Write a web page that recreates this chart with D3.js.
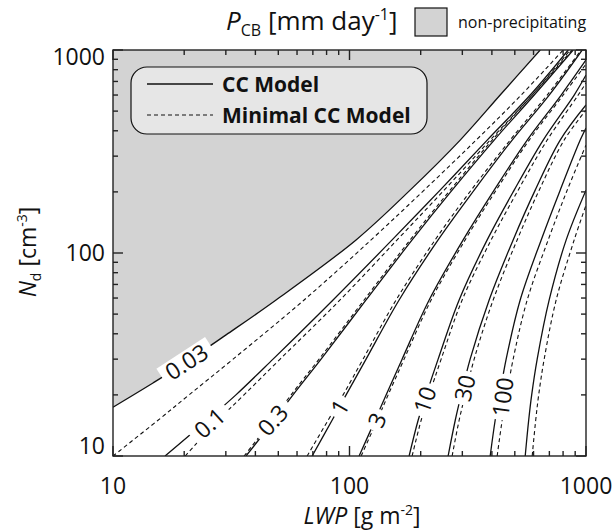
<!DOCTYPE html>
<html><head><meta charset="utf-8">
<script src="https://cdn.jsdelivr.net/npm/d3@7"></script>
<style>body{margin:0;background:#fff}svg{display:block}text{font-family:"Open Sans",sans-serif;fill:#111}</style>
</head><body><svg id="c" width="615" height="530"></svg>
<script>
// ---- data (LWP [g m-2], Nd [cm-3]) ----
const levels = ["0.03","0.1","0.3","1","3","10","30","100","300"];
const xMajorTicks = [10,100,1000];
const yMajorTicks = [10,100,1000];
const minorTicks = [20,30,40,50,60,70,80,90,200,300,400,500,600,700,800,900];

// CC Model (solid) contours: [LWP, Nd]
const cc003 = [[10,17.4],[14.76,22.9],[20.36,29.0],[30.06,39.5],[48.92,58.7],[106.6,116],[180.4,204],[293.8,360],[433.6,600],[640.3,1000]];
const cc01  = [[16.6,10],[25.0,15],[33.1,20],[47.5,30],[85.2,58.7],[151.4,116],[241.6,204],[382.1,360],[581,600],[841,1000]];
const cc03  = [[36.5,10],[47.97,15],[57.7,20],[75.82,30],[117.5,58.7],[184.0,116],[271.6,204],[409.0,360],[603.9,600],[882.7,1000]];
const cc1   = [[69.5,10],[84.41,15],[96.75,20],[117.5,30],[162.1,58.7],[237.0,116],[336.6,204],[487.3,360],[698.8,600],[963.6,1000]];
const cc3   = [[109.8,10],[128.3,15],[142.8,20],[166.9,30],[217.2,58.7],[302.4,116],[409.0,204],[564.2,360],[785.4,600],[1000,893]];
const cc10  = [[178.7,10],[195.1,15],[210.9,20],[237,30],[290.8,58.7],[382.1,116],[496.9,204],[659.2,360],[891.4,600],[1000,753]];
const cc30  = [[261.2,10],[280,15],[296.6,20],[323.7,30],[389.5,58.7],[492,116],[609.8,204],[777.8,360],[1000,536]];
const cc100 = [[393.4,10],[413,15],[431.5,20],[459.6,30],[526.9,58.7],[646.5,116],[777.8,204],[945.3,360],[1000,413]];
const cc300 = [[553.3,10],[572.3,15],[589.3,20],[621.8,30],[698.8,58.7],[824.6,116],[1000,204]];

// Minimal CC Model (dashed) contours: [LWP, Nd]
const min003 = [[10,10],[15.5,15],[20.97,20],[32.19,30],[64.27,58.7],[123.4,116],[206.8,204],[343.2,360],[532.0,600],[800.9,1000]];
const min01  = [[20.2,10],[27.8,15],[35.8,20],[50.9,30],[91.2,58.7],[159,116],[251.3,204],[393.4,360],[592.2,600],[857.5,1000]];
const min03  = [[35.83,10],[47.07,15],[56.62,20],[74.35,30],[115.3,58.7],[180.4,116],[266.4,204],[401.1,360],[592.2,600],[874.2,1000]];
const min1   = [[66.2,10],[81.19,15],[93.96,20],[114.1,30],[157.4,58.7],[230.2,116],[326.9,204],[477.9,360],[685.3,600],[954.3,1000]];
const min3   = [[112,10],[130.9,15],[145.7,20],[170.2,30],[221.4,58.7],[308.3,116],[417.0,204],[575.2,360],[800.9,600],[1000,853]];
const min10  = [[184,10],[200.9,15],[217.2,20],[244.1,30],[299.5,58.7],[397.2,116],[516.6,204],[685.3,360],[926.8,600],[1000,688]];
const min30  = [[271.6,10],[290.8,15],[308.3,20],[336.6,30],[405,58.7],[511.6,116],[633.9,204],[808.8,360],[1000,506]];
const min100 = [[421.1,10],[442.2,15],[461.9,20],[492,30],[564.2,58.7],[692.1,116],[832.8,204],[1000,340]];
const min300 = [[592.2,10],[612.8,15],[630.9,20],[665.5,30],[747.9,58.7],[891.4,116],[1000,172]];

// contour labels: text, LWP, Nd, angle
const labelText  = ["0.03","0.1","0.3","1","3","10","30","100"];
const labelLWP   = [20.5, 25.7, 47.5, 91.2, 131, 209, 308, 446];
const labelNd    = [29.0, 14.5, 15.0, 17.4, 15.0, 18.9, 21.6, 19.5];
const labelAngle = [-33, -42, -48, -60, -66, -71, -77, -82];

// ---- drawing ----
const svg = d3.select("#c");
const L=113, R=586, T=50, B=456;
const x = d3.scaleLog().domain([10,1000]).range([L,R]);
const y = d3.scaleLog().domain([10,1000]).range([B,T]);

svg.append("defs").append("clipPath").attr("id","clip")
  .append("rect").attr("x",L).attr("y",T).attr("width",R-L).attr("height",B-T);
const plot = svg.append("g").attr("clip-path","url(#clip)");

const line = d3.line().x(d=>x(d[0])).y(d=>y(d[1])).curve(d3.curveCatmullRom.alpha(0.5));

// non-precipitating region: above the 0.03 CC contour
plot.append("path")
  .attr("d", line(cc003) + `L${x(1000)},${y(1000)}L${x(10)},${y(1000)}Z`)
  .attr("fill","#d3d3d3");

const solids = [cc003,cc01,cc03,cc1,cc3,cc10,cc30,cc100,cc300];
const dashes = [min003,min01,min03,min1,min3,min10,min30,min100,min300];
dashes.forEach(s => plot.append("path").datum(s).attr("d",line)
  .attr("fill","none").attr("stroke","#111").attr("stroke-width",1.1).attr("stroke-dasharray","4,3"));
solids.forEach(s => plot.append("path").datum(s).attr("d",line)
  .attr("fill","none").attr("stroke","#111").attr("stroke-width",1.3));

// labels with white gaps
labelText.forEach((t,i) => {
  const g = plot.append("g").attr("transform",`translate(${x(labelLWP[i])},${y(labelNd[i])}) rotate(${labelAngle[i]})`);
  const w = t.length*12 + 10;
  g.append("rect").attr("x",-w/2).attr("y",-11).attr("width",w).attr("height",22).attr("fill","#fff");
  g.append("text").attr("text-anchor","middle").attr("dy","0.35em").attr("font-size",23).text(t);
});

// legend box
const lg = svg.append("g");
lg.append("rect").attr("x",131).attr("y",67).attr("width",296).attr("height",67).attr("rx",16)
  .attr("fill","#e6e6e6").attr("stroke","#111").attr("stroke-width",1.2);
lg.append("line").attr("x1",147).attr("x2",213).attr("y1",84).attr("y2",84).attr("stroke","#111").attr("stroke-width",1.3);
lg.append("line").attr("x1",147).attr("x2",213).attr("y1",115).attr("y2",115).attr("stroke","#111").attr("stroke-width",1.1).attr("stroke-dasharray","4,3");
lg.append("text").attr("x",222).attr("y",92).attr("font-size",21).attr("font-weight","bold").text("CC Model");
lg.append("text").attr("x",222).attr("y",123).attr("font-size",21).attr("font-weight","bold").text("Minimal CC Model");

// frame and ticks
const ax = svg.append("g").attr("stroke","#222").attr("stroke-width",1.4);
ax.append("rect").attr("x",L).attr("y",T).attr("width",R-L).attr("height",B-T).attr("fill","none");
const allX = xMajorTicks.map(v=>[v,10]).concat(minorTicks.map(v=>[v,5]));
allX.forEach(([v,len]) => {
  ax.append("line").attr("x1",x(v)).attr("x2",x(v)).attr("y1",B).attr("y2",B-len);
  ax.append("line").attr("x1",x(v)).attr("x2",x(v)).attr("y1",T).attr("y2",T+len);
});
const allY = yMajorTicks.map(v=>[v,10]).concat(minorTicks.map(v=>[v,5]));
allY.forEach(([v,len]) => {
  ax.append("line").attr("y1",y(v)).attr("y2",y(v)).attr("x1",L).attr("x2",L+len);
  ax.append("line").attr("y1",y(v)).attr("y2",y(v)).attr("x1",R).attr("x2",R-len);
});

// tick labels
xMajorTicks.forEach(v => svg.append("text").attr("x",x(v)).attr("y",494).attr("text-anchor","middle").attr("font-size",23).text(v));
const yLabOff = {10:-2, 100:8, 1000:15};
yMajorTicks.forEach(v => svg.append("text").attr("x",105).attr("y",y(v)+yLabOff[v]).attr("text-anchor","end").attr("font-size",23).text(v));

// axis titles
const xt = svg.append("text").attr("x",362).attr("y",524).attr("text-anchor","middle").attr("font-size",23);
xt.append("tspan").attr("font-style","italic").text("LWP");
xt.append("tspan").text(" [g m");
xt.append("tspan").attr("font-size",14).attr("dy",-9).text("-2");
xt.append("tspan").attr("dy",9).text("]");

const yt = svg.append("text").attr("transform","translate(36,252) rotate(-90)").attr("text-anchor","middle").attr("font-size",23);
yt.append("tspan").attr("font-style","italic").text("N");
yt.append("tspan").attr("font-size",14).attr("dy",5).text("d");
yt.append("tspan").attr("dy",-5).text(" [cm");
yt.append("tspan").attr("font-size",14).attr("dy",-9).text("-3");
yt.append("tspan").attr("dy",9).text("]");

// title
const tt = svg.append("text").attr("x",226).attr("y",30).attr("font-size",26);
tt.append("tspan").attr("font-style","italic").text("P");
tt.append("tspan").attr("font-size",16).attr("dy",6).text("CB");
tt.append("tspan").attr("dy",-6).text(" [mm day");
tt.append("tspan").attr("font-size",16).attr("dy",-10).text("-1");
tt.append("tspan").attr("dy",10).text("]");

// top legend
svg.append("rect").attr("x",415).attr("y",8).attr("width",32).attr("height",28).attr("fill","#d3d3d3").attr("stroke","#111").attr("stroke-width",1.2);
svg.append("text").attr("x",458).attr("y",28).attr("font-size",16).text("non-precipitating");
</script></body></html>
